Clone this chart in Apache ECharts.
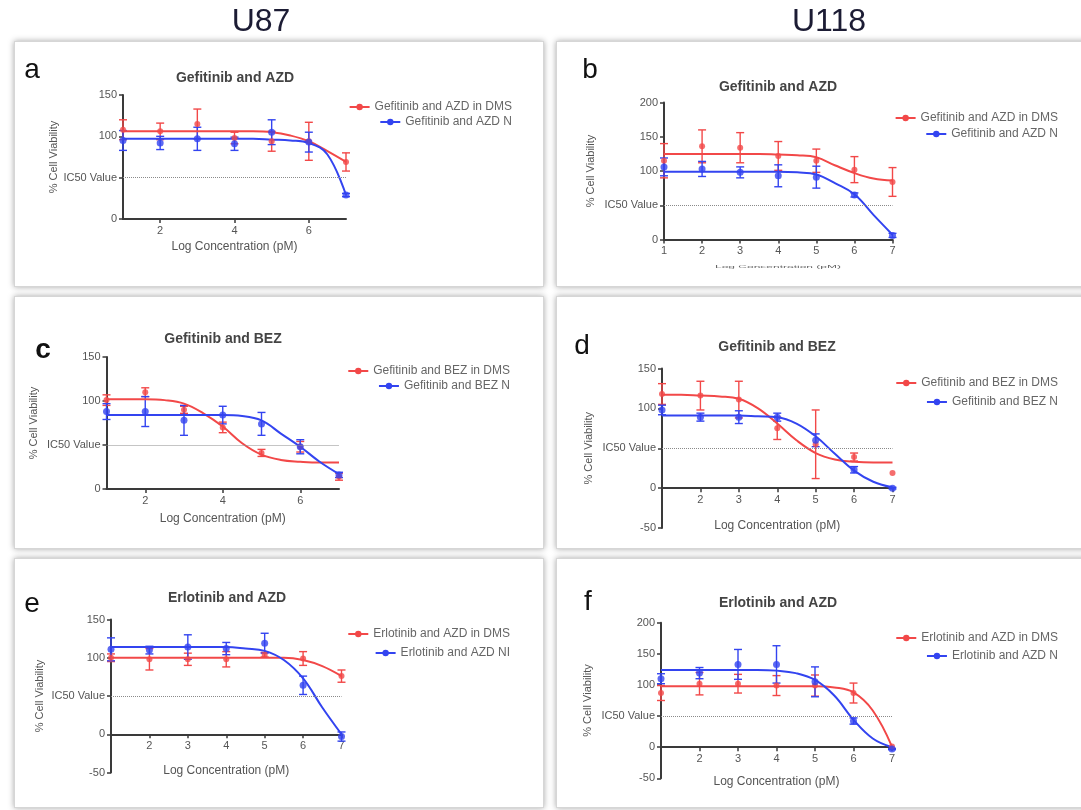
<!DOCTYPE html>
<html>
<head>
<meta charset="utf-8">
<script src="https://cdn.jsdelivr.net/npm/echarts@6/dist/echarts.min.js"></script>
<style>
  body { margin: 0; background: #fff; }
  .panel { position: absolute; background: #fff; border: 1px solid #d6d6d6; box-shadow: 0 0 6px rgba(0,0,0,0.35); }
  #main { position: absolute; left: 0; top: 0; width: 1081px; height: 810px; }
</style>
</head>
<body>
<div class="panel" style="left:14px;top:41px;width:528px;height:244px"></div>
<div class="panel" style="left:556px;top:41px;width:540px;height:244px"></div>
<div class="panel" style="left:14px;top:296px;width:528px;height:251px"></div>
<div class="panel" style="left:556px;top:296px;width:540px;height:251px"></div>
<div class="panel" style="left:14px;top:558px;width:528px;height:248px"></div>
<div class="panel" style="left:556px;top:558px;width:540px;height:248px"></div>
<div id="main"></div>
<script>
// log concentration (pM) of each measured point
var concentrations = [1, 2, 3, 4, 5, 6, 7];
var fitX = [1, 1.5, 2, 2.5, 3, 3.5, 4, 4.5, 5, 5.5, 6, 6.5, 7];
var ic50Level = 50;

// a - U87, Gefitinib and AZD
var aRedMean = [108, 106, 115, 98, 94, 94, 69];
var aRedErr = [12, 10, 18, 7, 12, 23, 11];
var aBlueMean = [95, 92, 97, 91, 105, 93, 29];
var aBlueErr = [12, 8, 14, 8, 15, 12, 2];
var aRedFit = [106, 106, 106, 106, 106, 106, 106, 106, 105, 101, 94, 82, 69];
var aBlueFit = [97, 97, 97, 97, 97, 97, 97, 97, 96, 95, 92, 78, 29];

// b - U118, Gefitinib and AZD
var bRedMean = [115, 136, 134, 122, 115, 102, 84];
var bRedErr = [25, 24, 22, 21, 17, 19, 21];
var bBlueMean = [106, 103, 98, 93, 91, 65, 6];
var bBlueErr = [13, 11, 8, 16, 16, 3, 3];
var bRedFit = [125, 125, 125, 125, 125, 125, 124, 123, 120, 108, 97, 89, 86];
var bBlueFit = [99, 99, 99, 99, 99, 99, 99, 98, 95, 82, 66, 36, 7];

// c - U87, Gefitinib and BEZ
var cRedMean = [101, 110, 90, 70, 41, 48, 14];
var cRedErr = [6, 5, 4, 6, 4, 6, 4];
var cBlueMean = [88, 88, 78, 84, 74, 48, 16];
var cBlueErr = [9, 17, 17, 10, 13, 8, 3];
var cRedFit = [102, 102, 102, 101, 97, 86, 71, 52, 39, 33, 31, 30, 30];
var cBlueFit = [84, 84, 84, 84, 84, 84, 84, 83, 78, 63, 48, 31, 17];

// d - U118, Gefitinib and BEZ
var dRedMean = [118, 116, 111, 75, 55, 39, 19];
var dRedErr = [13, 18, 23, 14, 43, 5, 0];
var dBlueMean = [98, 89, 89, 89, 60, 23, 0];
var dBlueErr = [6, 5, 8, 5, 8, 4, 1];
var dRedFit = [117, 117, 116, 115, 112, 100, 81, 60, 44, 36, 33, 32, 32];
var dBlueFit = [91, 91, 91, 91, 91, 90, 89, 81, 65, 43, 22, 8, 1];

// e - U87, Erlotinib and AZD
var eRedMean = [100, 98, 98, 98, 104, 99, 76];
var eRedErr = [5, 14, 8, 10, 3, 9, 8];
var eBlueMean = [111, 110, 114, 112, 119, 64, -3];
var eBlueErr = [15, 5, 16, 8, 13, 12, 6];
var eRedFit = [100, 100, 100, 100, 100, 100, 100, 100, 100, 100, 97, 89, 76];
var eBlueFit = [114, 114, 114, 114, 114, 114, 114, 112, 109, 97, 73, 35, 0];

// f - U118, Erlotinib and AZD
var fRedMean = [87, 102, 102, 99, 99, 87, 1];
var fRedErr = [12, 18, 15, 16, 17, 16, 0];
var fBlueMean = [110, 119, 133, 133, 105, 42, -3];
var fBlueErr = [8, 9, 24, 30, 24, 5, 1];
var fRedFit = [98, 98, 98, 98, 98, 98, 98, 98, 98, 96, 88, 59, 1];
var fBlueFit = [124, 124, 124, 124, 124, 124, 123, 119, 108, 83, 44, 14, 0];

var RED = '#f24848', BLUE = '#3344f0';
var FONT = '"Liberation Sans", Arial, sans-serif';

var panels = [
  { key: 'a', title: 'Gefitinib and AZD', names: ['Gefitinib and AZD in DMS', 'Gefitinib and AZD N'],
    red: [aRedMean, aRedErr, aRedFit], blue: [aBlueMean, aBlueErr, aBlueFit],
    yMin: 0, yMax: 150, xTicks: [2, 4, 6],
    grid: [123, 95, 223, 124], yGap: 64, xGap: 22, legendRight: 564, legendTop: [96, 111],
    titlePos: [235, 78], letterPos: [32, 70] },
  { key: 'b', title: 'Gefitinib and AZD', names: ['Gefitinib and AZD in DMS', 'Gefitinib and AZD N'],
    red: [bRedMean, bRedErr, bRedFit], blue: [bBlueMean, bBlueErr, bBlueFit],
    yMin: 0, yMax: 200, xTicks: [1, 2, 3, 4, 5, 6, 7],
    grid: [664, 102.5, 228.5, 137], yGap: 68, xGap: null, legendRight: 18, legendTop: [107, 123],
    titlePos: [778, 87], letterPos: [590, 70] },
  { key: 'c', title: 'Gefitinib and BEZ', names: ['Gefitinib and BEZ in DMS', 'Gefitinib and BEZ N'],
    red: [cRedMean, cRedErr, cRedFit], blue: [cBlueMean, cBlueErr, cBlueFit],
    yMin: 0, yMax: 150, xTicks: [2, 4, 6],
    grid: [106.5, 357, 232.5, 132], yGap: 67, xGap: 24, legendRight: 566, legendTop: [360, 375],
    titlePos: [223, 339], letterPos: [43, 350], letterBold: true },
  { key: 'd', title: 'Gefitinib and BEZ', names: ['Gefitinib and BEZ in DMS', 'Gefitinib and BEZ N'],
    red: [dRedMean, dRedErr, dRedFit], blue: [dBlueMean, dBlueErr, dBlueFit],
    yMin: -50, yMax: 150, xTicks: [2, 3, 4, 5, 6, 7],
    grid: [662, 368.5, 230.5, 159.5], yGap: 68, xGap: 32, legendRight: 18, legendTop: [372, 391],
    titlePos: [777, 347], letterPos: [582, 346] },
  { key: 'e', title: 'Erlotinib and AZD', names: ['Erlotinib and AZD in DMS', 'Erlotinib and AZD NI'],
    red: [eRedMean, eRedErr, eRedFit], blue: [eBlueMean, eBlueErr, eBlueFit],
    yMin: -50, yMax: 150, xTicks: [2, 3, 4, 5, 6, 7],
    grid: [111, 619.5, 230.5, 153], yGap: 66, xGap: 30, legendRight: 566, legendTop: [623, 642],
    titlePos: [227, 598], letterPos: [32, 604] },
  { key: 'f', title: 'Erlotinib and AZD', names: ['Erlotinib and AZD in DMS', 'Erlotinib and AZD N'],
    red: [fRedMean, fRedErr, fRedFit], blue: [fBlueMean, fBlueErr, fBlueFit],
    yMin: -50, yMax: 200, xTicks: [2, 3, 4, 5, 6, 7],
    grid: [661, 622.7, 231, 155.6], yGap: 68, xGap: 29, legendRight: 18, legendTop: [627, 645],
    titlePos: [778, 603], letterPos: [588, 602] }
];

function errorBars(color) {
  return function (params, api) {
    var x = api.value(0);
    var top = api.coord([x, api.value(2)]);
    var bot = api.coord([x, api.value(1)]);
    var w = 4;
    var st = { stroke: color, lineWidth: 1.4 };
    return {
      type: 'group',
      children: [
        { type: 'line', shape: { x1: top[0], y1: top[1], x2: bot[0], y2: bot[1] }, style: st },
        { type: 'line', shape: { x1: top[0] - w, y1: top[1], x2: top[0] + w, y2: top[1] }, style: st },
        { type: 'line', shape: { x1: bot[0] - w, y1: bot[1], x2: bot[0] + w, y2: bot[1] }, style: st }
      ]
    };
  };
}

var grids = [], xAxes = [], yAxes = [], series = [], legends = [];
var graphics = [
  { type: 'text', x: 261, y: 22, style: { text: 'U87', font: '32px ' + FONT, fill: '#1c1c34', textAlign: 'center', textVerticalAlign: 'middle' } },
  { type: 'text', x: 829, y: 22, style: { text: 'U118', font: '32px ' + FONT, fill: '#1c1c34', textAlign: 'center', textVerticalAlign: 'middle' } }
];

panels.forEach(function (p, i) {
  grids.push({ left: p.grid[0], top: p.grid[1], width: p.grid[2], height: p.grid[3] });

  // x axis sits on the zero line; shift it (with labels) up from the grid bottom
  var zeroShift = p.grid[3] * (0 - p.yMin) / (p.yMax - p.yMin);

  xAxes.push({
    type: 'value', gridIndex: i, min: 1, max: 7, interval: 1,
    offset: -zeroShift,
    name: p.xGap === null ? '' : 'Log Concentration (pM)',
    nameLocation: 'middle', nameGap: p.xGap || 0,
    nameTextStyle: { fontSize: 12, color: '#555', fontFamily: FONT },
    axisLine: { onZero: false, lineStyle: { color: '#3a3a3a', width: 2 } },
    axisTick: { length: 4, customValues: p.xTicks, lineStyle: { color: '#3a3a3a', width: 1.5 } },
    axisLabel: { customValues: p.xTicks, fontSize: 11, color: '#555', margin: 6, fontFamily: FONT },
    splitLine: { show: false }
  });

  yAxes.push({
    type: 'value', gridIndex: i, min: p.yMin, max: p.yMax, interval: 50,
    name: '% Cell Viability', nameLocation: 'middle', nameGap: p.yGap,
    nameTextStyle: { fontSize: 11, color: '#555', fontFamily: FONT },
    axisLine: { onZero: false, lineStyle: { color: '#3a3a3a', width: 2 } },
    axisTick: { length: 4, lineStyle: { color: '#3a3a3a', width: 1.5 } },
    axisLabel: {
      fontSize: 11, color: '#555', margin: 6, fontFamily: FONT,
      formatter: function (v) { return v === ic50Level ? 'IC50 Value' : v; }
    },
    splitLine: { show: false }
  });

  [['red', RED, 6], ['blue', BLUE, 7]].forEach(function (g, k) {
    var set = p[g[0]], mean = set[0], err = set[1], fit = set[2];
    var name = p.key + '|' + p.names[k];
    var fitSeries = {
      type: 'line', name: name, xAxisIndex: i, yAxisIndex: i,
      data: fitX.map(function (x, j) { return [x, fit[j]]; }),
      smooth: 0.4,
      symbol: 'circle', symbolSize: 7, showSymbol: false,
      lineStyle: { color: g[1], width: 2 }, itemStyle: { color: g[1] },
      silent: true, z: 3
    };
    if (k === 0) {
      fitSeries.markLine = {
        silent: true, symbol: 'none', label: { show: false },
        lineStyle: { type: 'dotted', color: '#8a8a8a', width: 1 },
        data: [{ yAxis: ic50Level }]
      };
    }
    series.push(fitSeries);

    var bars = [];
    concentrations.forEach(function (x, j) {
      if (err[j] > 0) bars.push([x, mean[j] - err[j], mean[j] + err[j]]);
    });
    series.push({
      type: 'custom', name: name + ' SEM', xAxisIndex: i, yAxisIndex: i,
      renderItem: errorBars(g[1]), data: bars, encode: { x: 0, y: [1, 2] },
      silent: true, z: 3
    });

    series.push({
      type: 'scatter', name: name + ' pts', xAxisIndex: i, yAxisIndex: i,
      data: concentrations.map(function (x, j) { return [x, mean[j]]; }),
      symbol: 'circle', symbolSize: g[2], itemStyle: { color: g[1] },
      silent: true, z: 4
    });

    legends.push({
      right: p.legendRight, top: p.legendTop[k], data: [name],
      itemWidth: 20, itemHeight: 8, selectedMode: false,
      textStyle: { fontSize: 12, color: '#666', fontFamily: FONT },
      formatter: function (n) { return n.split('|')[1]; }
    });
  });

  graphics.push({ type: 'text', x: p.titlePos[0], y: p.titlePos[1],
    style: { text: p.title, font: 'bold 14px ' + FONT, fill: '#444', textAlign: 'center', textVerticalAlign: 'middle' } });
  graphics.push({ type: 'text', x: p.letterPos[0], y: p.letterPos[1],
    style: { text: p.key, font: (p.letterBold ? 'bold ' : '') + '28px ' + FONT, fill: '#111', textAlign: 'center', textVerticalAlign: 'middle' } });
});

// panel b: the x-axis title is printed squashed in the source figure
graphics.push({ type: 'text', x: 778, y: 267, scaleY: 0.35,
  style: { text: 'Log Concentration (pM)', font: '12px ' + FONT, fill: '#666', textAlign: 'center', textVerticalAlign: 'middle' } });

var myChart = echarts.init(document.getElementById('main'));
myChart.setOption({
  animation: false,
  grid: grids,
  xAxis: xAxes,
  yAxis: yAxes,
  legend: legends,
  graphic: graphics,
  series: series
});
</script>
</body>
</html>
